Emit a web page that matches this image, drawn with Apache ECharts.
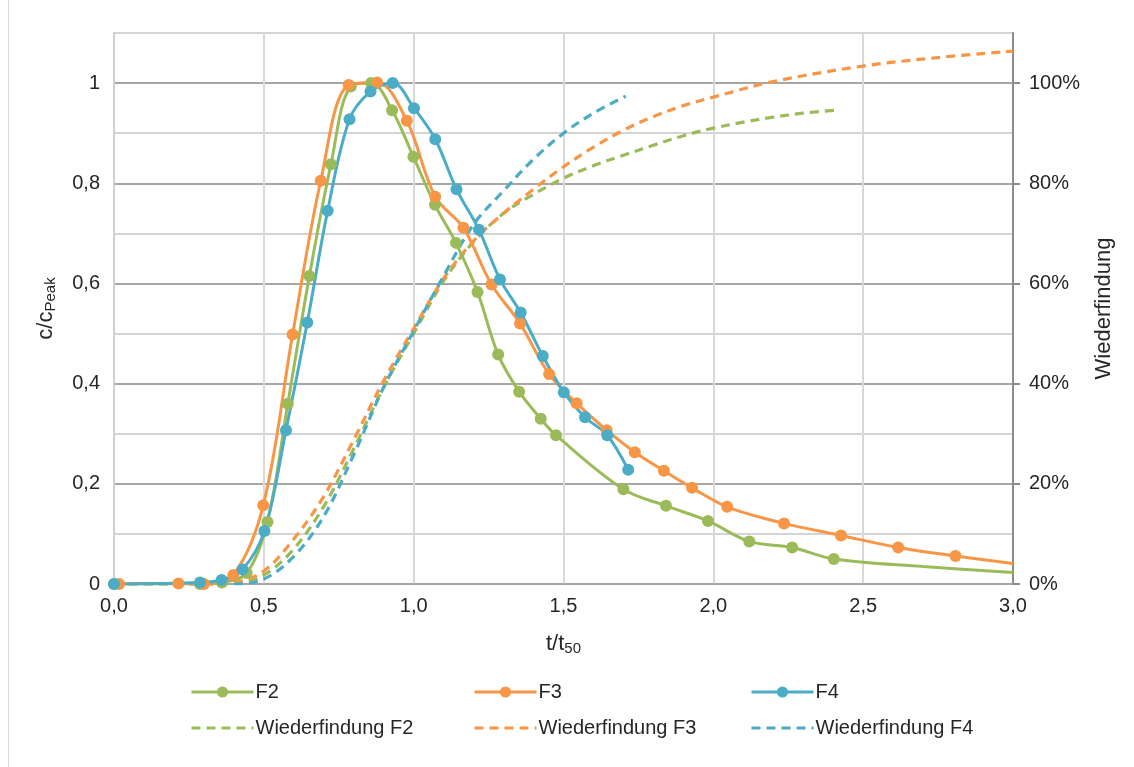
<!DOCTYPE html>
<html>
<head>
<meta charset="utf-8">
<script src="https://cdn.jsdelivr.net/npm/echarts@6/dist/echarts.min.js"></script>
<style>
html,body{margin:0;padding:0;background:#fff;}
#chart{width:1134px;height:767px;}
</style>
</head>
<body>
<div id="chart"></div>
<script>
// ---- Data (x = t/t50, y = c/cPeak) ----
var F2 = [[0,0],[0.287,0],[0.36,0.003],[0.443,0.022],[0.512,0.124],[0.58,0.36],[0.652,0.615],[0.724,0.838],[0.79,0.993],[0.858,1.0],[0.928,0.946],[0.999,0.853],[1.071,0.757],[1.141,0.681],[1.213,0.583],[1.282,0.458],[1.352,0.384],[1.424,0.33],[1.475,0.297],[1.70,0.189],[1.842,0.156],[1.982,0.126],[2.12,0.085],[2.263,0.073],[2.402,0.05]];
var F2_tail = [[2.7,0.035],[3.0,0.023]];

var F3 = [[0.017,0],[0.215,0.001],[0.30,0],[0.398,0.018],[0.498,0.157],[0.596,0.498],[0.69,0.805],[0.783,0.996],[0.878,1.001],[0.977,0.925],[1.072,0.773],[1.166,0.711],[1.26,0.598],[1.355,0.52],[1.452,0.419],[1.544,0.361],[1.644,0.307],[1.738,0.263],[1.835,0.226],[1.929,0.192],[2.046,0.154],[2.236,0.121],[2.426,0.097],[2.617,0.073],[2.808,0.056]];
var F3_tail = [[3.0,0.041]];

var F4 = [[0,0],[0.287,0.003],[0.359,0.008],[0.429,0.029],[0.502,0.106],[0.574,0.307],[0.645,0.522],[0.713,0.745],[0.786,0.928],[0.856,0.983],[0.93,1.0],[1.001,0.95],[1.072,0.888],[1.143,0.788],[1.218,0.707],[1.288,0.608],[1.357,0.542],[1.431,0.455],[1.501,0.383],[1.572,0.333],[1.646,0.297],[1.716,0.228]];

// Recovery (Wiederfindung) in percent
var W2 = [[0,0],[0.3,0],[0.4,0.1],[0.5,1.8],[0.6,7],[0.7,15.5],[0.8,27],[0.9,39.3],[1.0,50],[1.1,60.5],[1.2,68.3],[1.3,74],[1.4,77.8],[1.5,81],[1.6,83.5],[1.7,85.6],[1.8,87.6],[1.9,89.5],[2.0,91],[2.1,92.2],[2.2,93.2],[2.3,94],[2.41,94.6]];
var W3 = [[0,0],[0.3,0],[0.4,0.3],[0.5,2.6],[0.6,9],[0.7,17.5],[0.8,28.8],[0.9,40.6],[1.0,51],[1.1,61],[1.2,68.5],[1.3,74],[1.4,78.8],[1.5,83.3],[1.6,87.2],[1.7,90.6],[1.8,93.3],[1.9,95.5],[2.0,97.2],[2.2,100.3],[2.5,103.4],[2.75,105.1],[3.0,106.4]];
var W4 = [[0,0],[0.3,0],[0.4,0],[0.5,1.0],[0.6,5.5],[0.7,13.5],[0.8,25.8],[0.9,39.3],[1.0,50.5],[1.1,61.5],[1.2,71.8],[1.3,78.5],[1.4,84.8],[1.5,90],[1.6,94],[1.708,97.4]];

var xTicks = {min:0, max:3, step:0.5};
var yLeft = {min:0, max:1.1, step:0.1};
var yRight = {min:0, max:110, step:20};

var GREEN = '#9BBB59', ORANGE = '#F79646', BLUE = '#4BACC6';
var FONT = "'Liberation Sans', Arial, sans-serif";
var TXT = '#262626';

function withTail(pts, tail){
  return pts.concat(tail.map(function(p){ return {value:p, symbol:'none'}; }));
}
function comma(v, d){ return v.toFixed(d).replace('.', ','); }

var chart = echarts.init(document.getElementById('chart'), null, {renderer:'canvas'});

function solid(name, data, color){
  return {name:name, type:'line', data:data, smooth:0.35, yAxisIndex:0,
    symbol:'circle', symbolSize:12, showAllSymbol:true,
    lineStyle:{color:color, width:3}, itemStyle:{color:color},
    emphasis:{disabled:true}, z:3};
}
function dashed(name, data, color){
  return {name:name, type:'line', data:data, smooth:0.35, yAxisIndex:1,
    symbol:'none', lineStyle:{color:color, width:3.2, type:[9,6]}, itemStyle:{color:color},
    emphasis:{disabled:true}, z:2};
}

var legendBase = {orient:'vertical', top:677, itemWidth:62, itemHeight:14, itemGap:16,
  textStyle:{fontFamily:FONT, fontSize:20, color:TXT, padding:[0,0,0,-3]}, selectedMode:false};
function legItems(a, b){
  return [{name:a, lineStyle:{width:3}},
          {name:b, itemStyle:{opacity:0}, lineStyle:{width:3}}];
}

var titleRich = {a:{fontFamily:FONT, fontSize:22, color:TXT}, b:{fontFamily:FONT, fontSize:15, color:TXT, padding:[10,0,0,0]}};

chart.setOption({
  animation:false,
  backgroundColor:'#fff',
  graphic:[{type:'line', shape:{x1:8.5,y1:0,x2:8.5,y2:767}, style:{stroke:'#d9d9d9', lineWidth:1}, silent:true}],
  grid:{left:114, right:121, top:33, bottom:183, containLabel:false},
  legend:[
    Object.assign({left:185, data:legItems('F2','Wiederfindung F2')}, legendBase),
    Object.assign({left:468, data:legItems('F3','Wiederfindung F3')}, legendBase),
    Object.assign({left:745, data:legItems('F4','Wiederfindung F4')}, legendBase)
  ],
  xAxis:{type:'value', min:xTicks.min, max:xTicks.max, interval:xTicks.step,
    name:'{a|t/t}{b|50}', nameLocation:'middle', nameGap:47,
    nameTextStyle:{rich:titleRich},
    axisLine:{show:true, lineStyle:{color:'#a6a6a6', width:1.5}}, axisTick:{show:false},
    axisLabel:{fontFamily:FONT, fontSize:20, color:TXT, margin:12, formatter:function(v){return comma(v,1);}},
    splitLine:{show:true, lineStyle:{color:'#d9d9d9', width:2}}},
  yAxis:[
    {type:'value', min:yLeft.min, max:yLeft.max, interval:yLeft.step, position:'left',
      name:'{a|c/c}{b|Peak}', nameLocation:'middle', nameGap:56, nameRotate:90,
      nameTextStyle:{rich:titleRich},
      axisLine:{show:true, lineStyle:{color:'#d0d0d0', width:2}}, axisTick:{show:false},
      axisLabel:{fontFamily:FONT, fontSize:20, color:TXT, margin:14, showMaxLabel:false,
        formatter:function(v){ var k=v*5; if (Math.abs(k-Math.round(k))>1e-6) return ''; if (Math.abs(v)<1e-9) return '0'; if (Math.abs(v-1)<1e-9) return '1'; return comma(v,1);}},
      splitLine:{show:true, lineStyle:{color:['#a6a6a6','#d4d4d4'], width:2}}},
    {type:'value', min:yRight.min, max:yRight.max, interval:yRight.step, position:'right',
      name:'Wiederfindung', nameLocation:'middle', nameGap:80, nameRotate:90,
      nameTextStyle:{fontFamily:FONT, fontSize:22, color:TXT},
      axisLine:{show:true, lineStyle:{color:'#8c8c8c', width:2}},
      axisTick:{show:true, inside:false, length:7, lineStyle:{color:'#8c8c8c', width:2}},
      axisLabel:{fontFamily:FONT, fontSize:20, color:TXT, margin:16, showMaxLabel:false,
        formatter:function(v){ return v>100.5 ? '' : Math.round(v)+'%'; }},
      splitLine:{show:false}}
  ],
  series:[
    dashed('Wiederfindung F2', W2, GREEN),
    dashed('Wiederfindung F3', W3, ORANGE),
    dashed('Wiederfindung F4', W4, BLUE),
    solid('F2', withTail(F2, F2_tail), GREEN),
    solid('F3', withTail(F3, F3_tail), ORANGE),
    solid('F4', F4, BLUE)
  ]
});
</script>
</body>
</html>
